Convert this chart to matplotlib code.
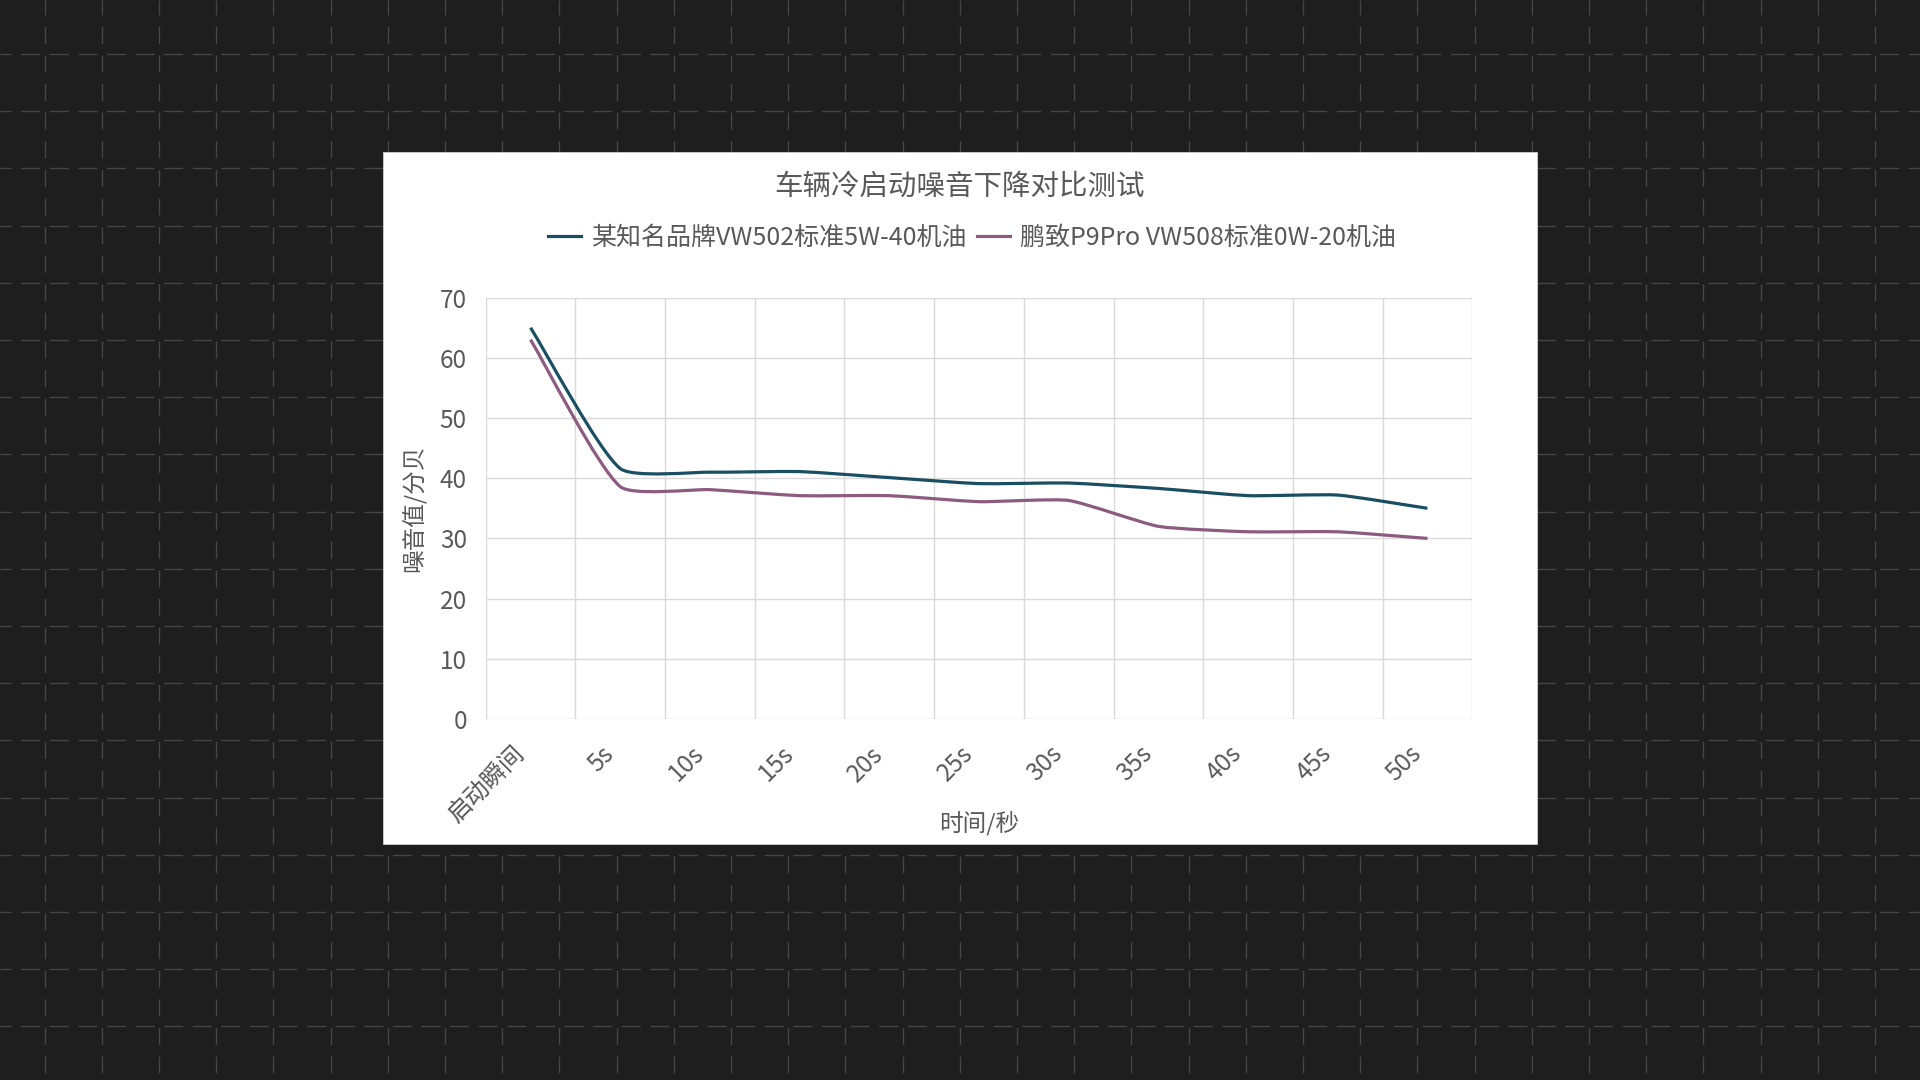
import matplotlib.pyplot as plt
import numpy as np
from matplotlib.path import Path
from matplotlib.patches import PathPatch, Rectangle
from matplotlib.lines import Line2D
from matplotlib.transforms import ScaledTranslation

plt.rcParams['font.family'] = ['Noto Sans CJK SC', 'DejaVu Sans']
plt.rcParams['lines.scale_dashes'] = False

# --------------------
# Data
# --------------------
categories = ['启动瞬间', '5s', '10s', '15s', '20s', '25s', '30s', '35s', '40s', '45s', '50s']
brand_noise = [65.0, 41.6, 41.0, 41.1, 40.1, 39.1, 39.2, 38.3, 37.1, 37.2, 35.0]
p9_noise = [63.0, 38.6, 38.1, 37.1, 37.1, 36.1, 36.3, 32.0, 31.1, 31.1, 30.0]
series_names = ['某知名品牌VW502标准5W-40机油', '鹏致P9Pro VW508标准0W-20机油']
y_ticks = [0, 10, 20, 30, 40, 50, 60, 70]

title = '车辆冷启动噪音下降对比测试'
x_label = '时间/秒'
y_label = '噪音值/分贝'

BG = '#1e1e1e'
BG_GRID = '#454545'
TEXT = '#595959'
GRID = '#d9d9d9'
BLUE = '#1a4e62'
PURPLE = '#8d5a80'

W, H = 1920, 1080
px = 72 / 100  # points per pixel at dpi 100

fig = plt.figure(figsize=(W / 100, H / 100), dpi=100)
fig.patch.set_facecolor(BG)

# --------------------
# Dark backdrop with dashed grid + white card
# --------------------
bg = fig.add_axes([0, 0, 1, 1])
bg.set_xlim(0, W)
bg.set_ylim(H, 0)
bg.axis('off')

step = 57.2
for x in np.arange(44.5, W, step):
    bg.plot([x, x], [0, H], color=BG_GRID, lw=1.0,
            linestyle=(2.2 * px, (17 * px, 11.6 * px)))
for y in np.arange(54, H, step):
    bg.plot([0, W], [y, y], color=BG_GRID, lw=1.0,
            linestyle=(7.9 * px, (19 * px, 9.6 * px)))

bg.add_patch(Rectangle((383, 152), 1153.5, 692, facecolor='white',
                       edgecolor='#cfcfcf', lw=0.6, zorder=5))

# --------------------
# Chart axes
# --------------------
ax_l, ax_r, ax_t, ax_b = 485.7, 1472.3, 297.6, 719.0
ax = fig.add_axes([ax_l / W, 1 - ax_b / H, (ax_r - ax_l) / W, (ax_b - ax_t) / H])
ax.set_facecolor('none')
ax.set_xlim(-0.5, len(categories) - 0.5)
ax.set_ylim(0, 70)

ax.set_yticks(y_ticks)
ax.set_xticks(range(len(categories)), labels=categories)
ax.set_xticks(np.arange(-0.5, len(categories)), minor=True)
ax.grid(axis='y', which='major', color=GRID, lw=1.0)
ax.grid(axis='x', which='minor', color=GRID, lw=1.0)
ax.set_axisbelow(True)
for sp in ax.spines.values():
    sp.set_visible(False)

ax.tick_params(which='both', length=0, colors=TEXT, labelsize=17.5)
ax.tick_params(axis='y', pad=13.5)
ax.tick_params(axis='x', pad=22.5)
shift = ScaledTranslation(-10 / 100, 0, fig.dpi_scale_trans)
for lab in ax.get_xticklabels():
    lab.set_rotation(45)
    lab.set_ha('right')
    lab.set_va('center')
    lab.set_rotation_mode('anchor')
    lab.set_transform(lab.get_transform() + shift)

ax.set_xlabel(x_label, fontsize=17, color=TEXT)
ax.set_ylabel(y_label, fontsize=17, color=TEXT)
ax.xaxis.set_label_coords(0.5, (ax_b - 823) / (ax_b - ax_t))
ax.xaxis.label.set_va('center')
ax.yaxis.set_label_coords((414 - ax_l) / (ax_r - ax_l), 0.5)
ax.yaxis.label.set_va('center')


def smooth_path(values, s=0.17):
    # bezier through every point, control arms along the neighbour chord
    pts = ax.transData.transform(np.column_stack([np.arange(len(values)), values]))
    n = len(pts)
    verts = [pts[0]]
    codes = [Path.MOVETO]
    for i in range(n - 1):
        p0, p1 = pts[max(i - 1, 0)], pts[i]
        p2, p3 = pts[i + 1], pts[min(i + 2, n - 1)]
        d12 = np.hypot(*(p2 - p1))
        t1 = (p2 - p0) / np.hypot(*(p2 - p0))
        t2 = (p3 - p1) / np.hypot(*(p3 - p1))
        verts += [p1 + t1 * d12 * s, p2 - t2 * d12 * s, p2]
        codes += [Path.CURVE4] * 3
    verts = ax.transData.inverted().transform(np.array(verts))
    return Path(verts, codes)


for vals, col in [(brand_noise, BLUE), (p9_noise, PURPLE)]:
    ax.add_patch(PathPatch(smooth_path(vals), facecolor='none', edgecolor=col,
                           lw=2.3, capstyle='butt', joinstyle='round', zorder=3))

# --------------------
# Title + legend
# --------------------
fig.text(0.5, 1 - 187 / H, title, ha='center', va='center', fontsize=20.5,
         color=TEXT)

handles = [Line2D([], [], color=BLUE, lw=2.3), Line2D([], [], color=PURPLE, lw=2.3)]
fig.legend(handles, series_names, loc='center', bbox_to_anchor=(972 / W, 1 - 237.5 / H),
           ncol=2, frameon=False, fontsize=18, labelcolor=TEXT,
           handlelength=1.3, handletextpad=0.4, columnspacing=0.45)

fig.savefig('out.png', dpi=100, facecolor=BG)
